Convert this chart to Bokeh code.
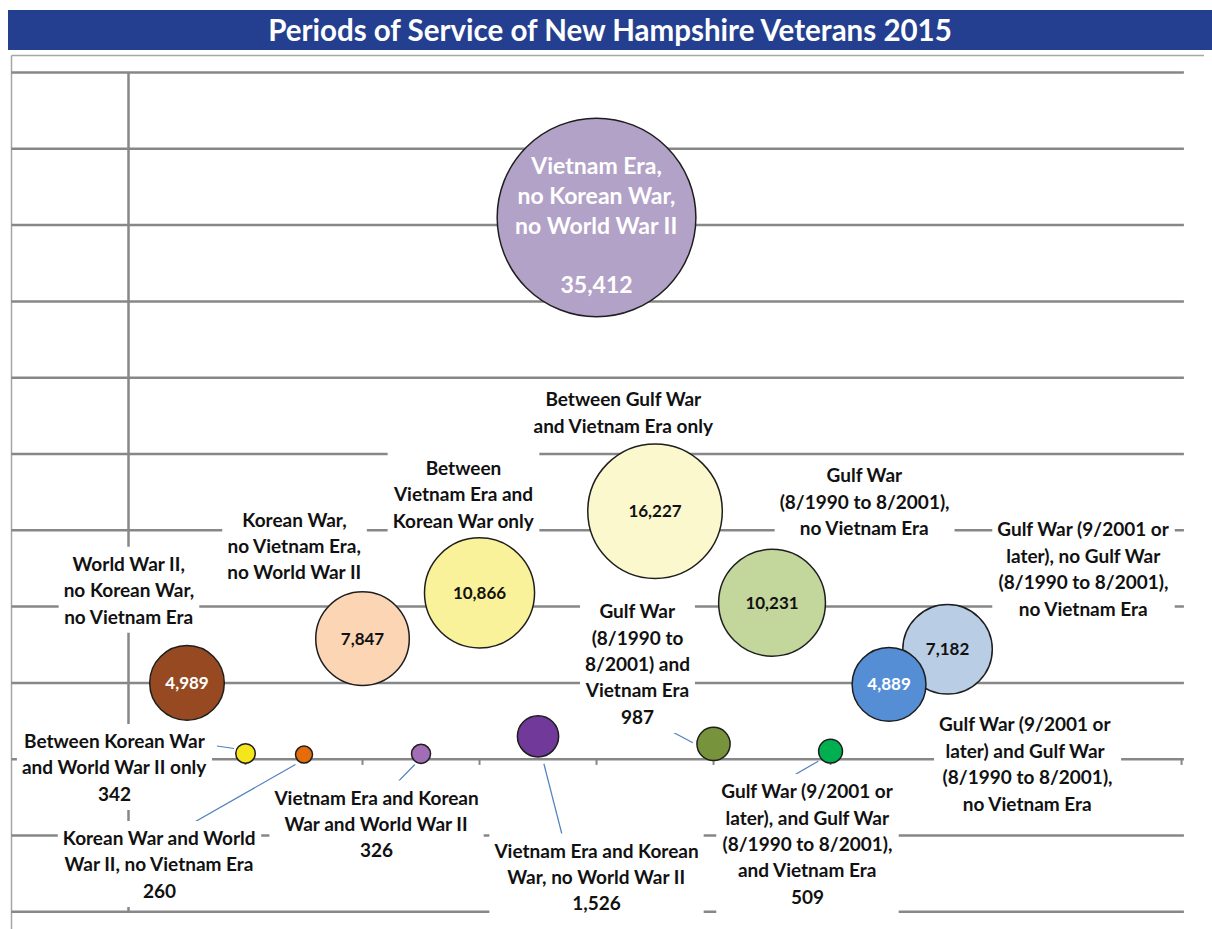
import math
from bokeh.plotting import figure
from bokeh.models import Range1d, ColumnDataSource, Div
from bokeh.layouts import column
from bokeh.core.properties import value
from bokeh.embed import file_html
from bokeh.resources import INLINE

# ---------------- data ----------------
title = "Periods of Service of New Hampshire Veterans 2015"

categories = [
    "Vietnam Era,\nno Korean War,\nno World War II",
    "Between Gulf War\nand Vietnam Era only",
    "Between\nVietnam Era and\nKorean War only",
    "Korean War,\nno Vietnam Era,\nno World War II",
    "World War II,\nno Korean War,\nno Vietnam Era",
    "Gulf War\n(8/1990 to 8/2001),\nno Vietnam Era",
    "Gulf War (9/2001 or\nlater), no Gulf War\n(8/1990 to 8/2001),\nno Vietnam Era",
    "Gulf War (9/2001  or\n later) and Gulf War\n(8/1990 to 8/2001),\nno Vietnam Era",
    "Between Korean War\nand World War II only",
    "Korean War and World\nWar II, no Vietnam Era",
    "Vietnam Era and Korean\nWar and World War II",
    "Vietnam Era and Korean\nWar, no World War II",
    "Gulf War\n(8/1990 to\n8/2001) and\nVietnam Era",
    "Gulf War (9/2001 or\nlater), and Gulf War\n(8/1990 to 8/2001),\nand Vietnam Era",
]
values = [35412, 16227, 10866, 7847, 4989, 10231, 7182, 4889, 342, 260, 326, 1526, 987, 509]
x_pos = [4.0, 4.5, 3.0, 2.0, 0.5, 5.5, 7.0, 6.5, 1.0, 1.5, 2.5, 3.5, 5.0, 6.0]
y_pos = [7.1, 3.25, 2.18, 1.58, 1.0, 2.05, 1.44, 0.98, 0.075, 0.06, 0.07, 0.3, 0.2, 0.105]

y_grid = list(range(-2, 10))
x_ticks = list(range(1, 10))

# ---------------- styles / layout ----------------
colors = ["#B3A2C7", "#FCF8CE", "#F9F29A", "#FCD5B5", "#974A22", "#C3D69B", "#B9CDE5",
          "#558ED5", "#F5E61B", "#E46C0A", "#A16EB6", "#70399A", "#77933C", "#00B050"]
inside_value = [False, True, True, True, True, True, True, True, False, False, False, False, False, False]
inside_color = ["#FFFFFF", "#111111", "#111111", "#111111", "#FFFFFF", "#111111", "#111111",
                "#FFFFFF", "#111111", "#111111", "#111111", "#111111", "#111111", "#111111"]
bubble_scale = 1.056

# label block centres (data units), index aligned with categories
label_x = [4.0, 4.231, 2.863, 1.419, 0.004, 6.291, 8.162, 7.684, -0.120, 0.265, 2.120, 4.0, 4.350, 5.803]
label_y = [7.007, 4.55, 3.48, 2.80, 2.22, 3.38, 2.50, -0.056, -0.102, -1.373, -0.843, -1.537, 1.254, -1.105]

# leader lines for the small bubbles
leader_x0 = [0.756, 0.513, 2.225, 3.550, 4.590, 5.624]
leader_y0 = [0.173, -0.869, -0.419, -0.060, 0.406, -0.266]
leader_x1 = [0.902, 1.427, 2.447, 3.729, 4.823, 5.895]
leader_y1 = [0.140, -0.069, -0.069, -1.131, 0.215, -0.026]

FONT = "Lato"
GRID = "#878787"
BORDER = "#A6A6A6"

x_lo, x_hi = -1.0256, 9.196
y_lo, y_hi = -2.232, 9.288
grid_left, grid_right = -1.0, 9.02
top_border = 9.222

p = figure(width=1196, height=879, x_range=Range1d(x_lo, x_hi), y_range=Range1d(y_lo, y_hi),
           output_backend="svg", toolbar_location=None, min_border=0,
           outline_line_color=None, background_fill_color="white", margin=(0, 0, 0, 8))
p.axis.visible = False
p.grid.visible = False

# borders
p.segment(x0=[grid_left], y0=[top_border], x1=[x_hi], y1=[top_border], line_color=BORDER, line_width=1.5)
p.segment(x0=[grid_left], y0=[top_border], x1=[grid_left], y1=[y_lo], line_color=BORDER, line_width=1.5)

# horizontal gridlines
p.segment(x0=[grid_left] * len(y_grid), y0=y_grid, x1=[grid_right] * len(y_grid), y1=y_grid,
          line_color=GRID, line_width=2.5)
# vertical axis line
p.segment(x0=[0], y0=[max(y_grid)], x1=[0], y1=[min(y_grid)], line_color=GRID, line_width=2.5)
# x-axis ticks
p.segment(x0=x_ticks, y0=[0] * len(x_ticks), x1=x_ticks, y1=[-0.075] * len(x_ticks),
          line_color=GRID, line_width=2)

# leader lines
p.segment(x0=leader_x0, y0=leader_y0, x1=leader_x1, y1=leader_y1, line_color="#4F81BD", line_width=1.2)

# bubbles
bsrc = ColumnDataSource(dict(x=x_pos, y=y_pos,
                             size=[bubble_scale * math.sqrt(v) for v in values],
                             color=colors))
p.scatter("x", "y", size="size", fill_color="color", line_color="#1E1E1E", line_width=1.5, source=bsrc)

# values inside bubbles
iv = [i for i in range(len(values)) if inside_value[i]]
vsrc = ColumnDataSource(dict(x=[x_pos[i] for i in iv], y=[y_pos[i] for i in iv],
                             text=[f"{values[i]:,}" for i in iv],
                             color=[inside_color[i] for i in iv]))
p.text("x", "y", text="text", text_color="color", text_font=value(FONT), text_font_style="bold",
       text_font_size="17px", text_align="center", text_baseline="middle", source=vsrc)

# big bubble label (inside, white)
p.text(x=[label_x[0]], y=[label_y[0]], text=[categories[0] + "\n\n" + f"{values[0]:,}"],
       text_color="white", text_font=value(FONT), text_font_style="bold", text_font_size="23px",
       text_line_height=1.07, text_align="center", text_baseline="middle")

# outside labels with white boxes
ol = list(range(1, len(categories)))
ltext = [categories[i] if inside_value[i] else categories[i] + "\n" + f"{values[i]:,}" for i in ol]
lsrc = ColumnDataSource(dict(x=[label_x[i] for i in ol], y=[label_y[i] for i in ol], text=ltext))
p.text("x", "y", text="text", text_color="#111111", text_font=value(FONT), text_font_style="bold",
       text_font_size="19px", text_line_height=1.15, text_align="center", text_baseline="middle",
       background_fill_color="white", padding=5, source=lsrc)

header = Div(text=f'<div style="width:1204px;height:40px;line-height:40px;background:#243F8F;'
                  f'color:white;font-family:Lato;font-weight:bold;font-size:29.5px;text-align:center;">{title}</div>',
             width=1204, height=40, margin=(10, 0, 0, 8))

layout = column(header, p, spacing=0)
open("out.html", "w").write(file_html(layout, INLINE))
